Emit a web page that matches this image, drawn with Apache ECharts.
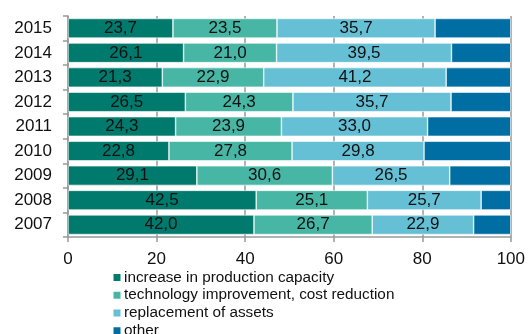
<!DOCTYPE html>
<html>
<head>
<meta charset="utf-8">
<script src="https://cdn.jsdelivr.net/npm/echarts@6/dist/echarts.min.js"></script>
<style>
  html, body { margin: 0; padding: 0; background: #fff; }
  #chart { width: 528px; height: 334px; }
</style>
</head>
<body>
<div id="chart"></div>
<script>
// Years, bottom to top
const years = ['2007', '2008', '2009', '2010', '2011', '2012', '2013', '2014', '2015'];

// Shares of investment purpose, %
const capacity    = [42.0, 42.5, 29.1, 22.8, 24.3, 26.5, 21.3, 26.1, 23.7];
const technology  = [26.7, 25.1, 30.6, 27.8, 23.9, 24.3, 22.9, 21.0, 23.5];
const replacement = [22.9, 25.7, 26.5, 29.8, 33.0, 35.7, 41.2, 39.5, 35.7];
const other       = [8.4, 6.7, 13.8, 19.6, 18.8, 13.5, 14.6, 13.4, 17.1];

const xTicks = [0, 20, 40, 60, 80, 100];

const seriesNames = [
  'increase in production capacity',
  'technology improvement, cost reduction',
  'replacement of assets',
  'other'
];
const colors = ['#007a6d', '#47b6a4', '#65bfd5', '#006ea3'];
const FONT = 'Liberation Sans, Arial, sans-serif';

function fmt(v) { return v.toFixed(1).replace('.', ','); }

function makeSeries(name, data, color, showLabel) {
  return {
    name: name,
    type: 'bar',
    stack: 'total',
    barCategoryGap: '20%',
    data: data,
    itemStyle: { color: color, borderColor: '#ffffff', borderWidth: 0.6 },
    label: {
      show: showLabel,
      position: 'inside',
      color: '#111',
      fontFamily: FONT,
      fontSize: 17,
      formatter: p => fmt(p.value)
    },
    emphasis: { disabled: true }
  };
}

const chart = echarts.init(document.getElementById('chart'), null, { renderer: 'canvas' });
chart.setOption({
  animation: false,
  backgroundColor: '#ffffff',
  color: colors,
  grid: { left: 68, right: 15, top: 16, bottom: 97, containLabel: false },
  legend: {
    orient: 'vertical',
    left: 111.5,
    top: 268.5,
    height: 120,
    padding: 0,
    itemWidth: 9,
    itemHeight: 9,
    itemGap: 0,
    icon: 'rect',
    data: seriesNames,
    textStyle: { fontFamily: FONT, fontSize: 15.3, lineHeight: 17.8, color: '#111', padding: [0, 0, 0, -2.5] },
    selectedMode: false
  },
  xAxis: {
    type: 'value',
    min: xTicks[0],
    max: xTicks[xTicks.length - 1],
    interval: xTicks[1] - xTicks[0],
    axisLine: { show: true, lineStyle: { color: '#999', width: 1.5 } },
    axisTick: { show: true, length: 5, lineStyle: { color: '#999', width: 1.5 } },
    axisLabel: { color: '#111', fontFamily: FONT, fontSize: 17, margin: 14 },
    splitLine: { show: true, lineStyle: { color: '#999', width: 1.5 } }
  },
  yAxis: {
    type: 'category',
    data: years,
    axisLine: { show: true, lineStyle: { color: '#999', width: 1.5 } },
    axisTick: { show: true, length: 5, lineStyle: { color: '#999', width: 1.5 } },
    axisLabel: { color: '#111', fontFamily: FONT, fontSize: 17, margin: 16 }
  },
  series: [
    makeSeries(seriesNames[0], capacity, colors[0], true),
    makeSeries(seriesNames[1], technology, colors[1], true),
    makeSeries(seriesNames[2], replacement, colors[2], true),
    makeSeries(seriesNames[3], other, colors[3], false)
  ]
});
</script>
</body>
</html>
